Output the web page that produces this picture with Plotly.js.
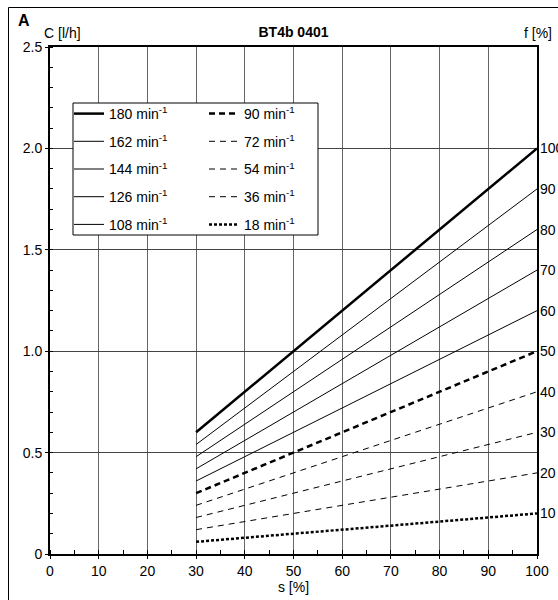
<!DOCTYPE html>
<html>
<head>
<meta charset="utf-8">
<script src="https://cdn.plot.ly/plotly-3.0.1.min.js"></script>
<style>
  html, body { margin: 0; padding: 0; background: #fff; }
  #chart { width: 558px; height: 600px; }
</style>
</head>
<body>
<div id="chart"></div>
<script>
// ---- data ----
const speeds = [180, 162, 144, 126, 108, 90, 72, 54, 36, 18];      // min^-1
const fLabels = ['100', '90', '80', '70', '60', '50', '40', '30', '20', '10'];
const sValues = [30, 100];                                          // s [%]
const cAtS30 = [0.60, 0.54, 0.48, 0.42, 0.36, 0.30, 0.24, 0.18, 0.12, 0.06];
const cAtS100 = [2.0, 1.8, 1.6, 1.4, 1.2, 1.0, 0.8, 0.6, 0.4, 0.2];
const xTickVals = [0, 10, 20, 30, 40, 50, 60, 70, 80, 90, 100];
const yTickVals = [0, 0.5, 1.0, 1.5, 2.0, 2.5];
const yTickText = ['0', '0.5', '1.0', '1.5', '2.0', '2.5'];

// ---- styles ----
const styles = [
  {width: 2.5, dash: 'solid'},
  {width: 1, dash: 'solid'},
  {width: 1, dash: 'solid'},
  {width: 1, dash: 'solid'},
  {width: 1, dash: 'solid'},
  {width: 2.5, dash: '6px,4px'},
  {width: 1, dash: '6px,5px'},
  {width: 1, dash: '6px,5px'},
  {width: 1, dash: '6px,5px'},
  {width: 2.5, dash: '3px,2px'}
];

const FONT = 'Liberation Sans, Arial, sans-serif';

const traces = speeds.map((sp, i) => ({
  type: 'scatter',
  mode: 'lines',
  x: sValues,
  y: [cAtS30[i], cAtS100[i]],
  name: sp + ' min<sup>-1</sup>',
  line: {color: '#000', width: styles[i].width, dash: styles[i].dash},
  legend: i < 5 ? 'legend' : 'legend2',
  legendgroup: 'g' + i,
  hoverinfo: 'skip'
}));

const W = 558, H = 600, ML = 50, MR = 21, MT = 47, MB = 46;
const PW = W - ML - MR, PH = H - MT - MB;
const px = v => (v - ML) / PW;
const py = v => (H - MB - v) / PH;

const annotations = fLabels.map((t, i) => ({
  x: 100, y: cAtS100[i], xref: 'x', yref: 'y',
  text: t, showarrow: false, xanchor: 'left', yanchor: 'middle', xshift: 1,
  font: {family: FONT, size: 14, color: '#000'}
}));
annotations.push(
  {x: px(16), y: py(21), xref: 'paper', yref: 'paper', text: '<b>A</b>', showarrow: false,
   xanchor: 'left', yanchor: 'middle', font: {family: FONT, size: 16, color: '#000'}},
  {x: px(42), y: py(33), xref: 'paper', yref: 'paper', text: 'C [l/h]', showarrow: false,
   xanchor: 'left', yanchor: 'middle', font: {family: FONT, size: 14, color: '#000'}},
  {x: px(554), y: py(33), xref: 'paper', yref: 'paper', text: 'f [%]', showarrow: false,
   xanchor: 'right', yanchor: 'middle', font: {family: FONT, size: 14, color: '#000'}}
);

const legendCommon = {
  bgcolor: 'rgba(0,0,0,0)', borderwidth: 0, tracegroupgap: 6.5,
  font: {family: FONT, size: 14, color: '#000'},
  xanchor: 'left', yanchor: 'top', orientation: 'v'
};

const layout = {
  width: W, height: H,
  margin: {l: ML, r: MR, t: MT, b: MB, pad: 0},
  paper_bgcolor: '#fff', plot_bgcolor: '#fff',
  font: {family: FONT, size: 14, color: '#000'},
  title: {text: '<b>BT4b 0401</b>', x: 0.5, xref: 'paper', xanchor: 'center',
          y: 1 - 32.5 / H, yanchor: 'middle', font: {family: FONT, size: 14, color: '#000'}},
  xaxis: {
    range: [0, 100], tickvals: xTickVals, ticks: 'outside', ticklen: 3, tickcolor: '#000',
    showline: true, linecolor: '#000', linewidth: 2, mirror: true,
    showgrid: true, gridcolor: '#666', gridwidth: 1, zeroline: false,
    minor: {dtick: 5, ticks: 'inside', ticklen: 4, tickcolor: '#000', showgrid: false},
    tickfont: {family: FONT, size: 14, color: '#000'},
    title: {text: 's [%]', standoff: 4, font: {family: FONT, size: 14, color: '#000'}},
    fixedrange: true
  },
  yaxis: {
    range: [0, 2.5], tickvals: yTickVals, ticktext: yTickText, ticks: 'outside', ticklen: 3, tickcolor: '#000',
    showline: true, linecolor: '#000', linewidth: 2, mirror: true,
    showgrid: true, gridcolor: '#444', gridwidth: 1, zeroline: false,
    minor: {dtick: 0.1, ticks: 'inside', ticklen: 3, tickcolor: '#000', showgrid: false},
    tickfont: {family: FONT, size: 14, color: '#000'},
    fixedrange: true
  },
  legend: Object.assign({}, legendCommon, {x: px(69), y: py(98)}),
  legend2: Object.assign({}, legendCommon, {x: px(204), y: py(98)}),
  shapes: [
    {type: 'rect', xref: 'paper', yref: 'paper', layer: 'above',
     x0: px(73), x1: px(318), y0: py(235), y1: py(103),
     line: {color: '#000', width: 1}, fillcolor: '#fff'},
    {type: 'rect', xref: 'paper', yref: 'paper', layer: 'above',
     x0: px(8.5), x1: px(700), y0: py(700), y1: py(7.5),
     line: {color: '#000', width: 1}, fillcolor: 'rgba(0,0,0,0)'}
  ],
  annotations: annotations,
  showlegend: true
};

Plotly.newPlot('chart', traces, layout, {staticPlot: true, displayModeBar: false});
</script>
</body>
</html>
